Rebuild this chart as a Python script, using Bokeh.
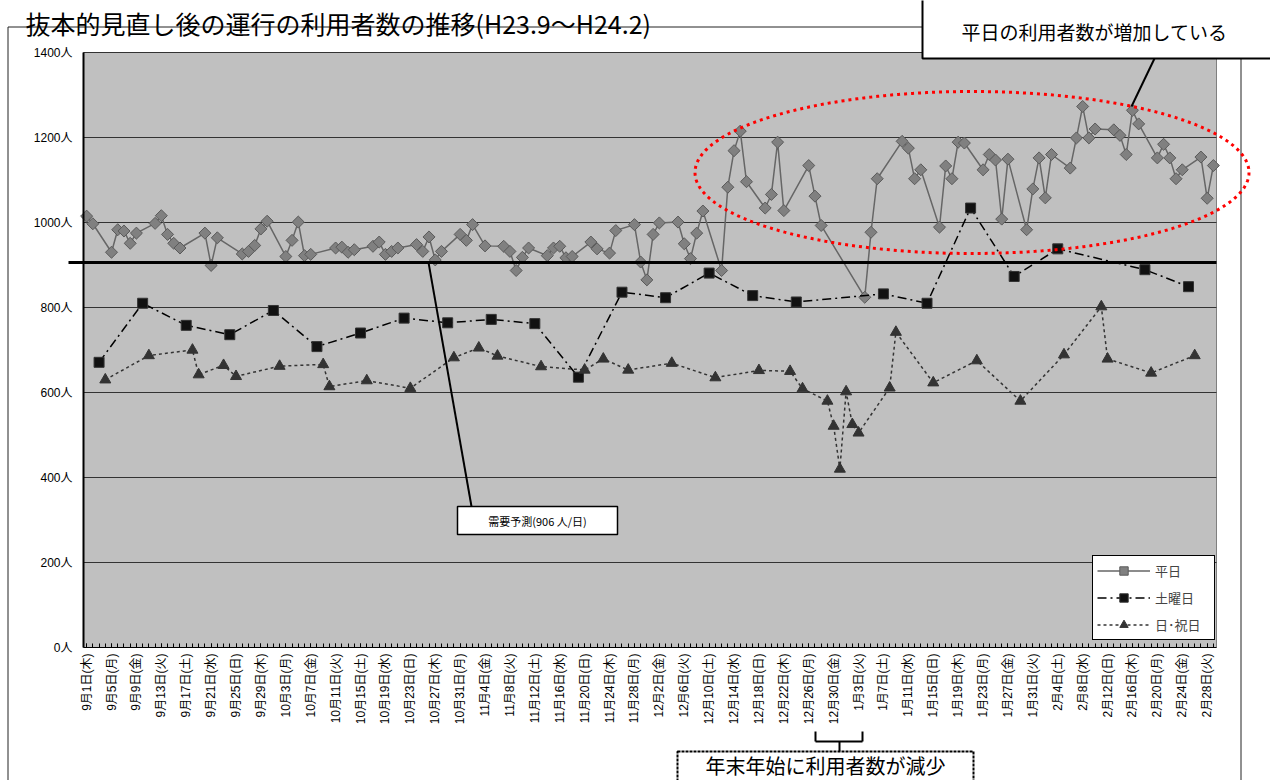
import numpy as np
import pandas as pd
from bokeh.plotting import figure
from bokeh.models import (FixedTicker, Legend, LegendItem, Label, BoxAnnotation,
                          PolyAnnotation, Arrow, Range1d)
from bokeh.embed import file_html
from bokeh.resources import INLINE

# ---------------- data ----------------
start_date = "2011-09-01"
end_date = "2012-02-29"

weekday_dates = [
    "2011-09-01", "2011-09-02", "2011-09-05", "2011-09-06", "2011-09-07", "2011-09-08", "2011-09-09",
    "2011-09-12", "2011-09-13", "2011-09-14", "2011-09-15", "2011-09-16", "2011-09-20", "2011-09-21",
    "2011-09-22", "2011-09-26", "2011-09-27", "2011-09-28", "2011-09-29", "2011-09-30",
    "2011-10-03", "2011-10-04", "2011-10-05", "2011-10-06", "2011-10-07", "2011-10-11", "2011-10-12",
    "2011-10-13", "2011-10-14", "2011-10-17", "2011-10-18", "2011-10-19", "2011-10-20", "2011-10-21",
    "2011-10-24", "2011-10-25", "2011-10-26", "2011-10-27", "2011-10-28", "2011-10-31",
    "2011-11-01", "2011-11-02", "2011-11-04", "2011-11-07", "2011-11-08", "2011-11-09", "2011-11-10",
    "2011-11-11", "2011-11-14", "2011-11-15", "2011-11-16", "2011-11-17", "2011-11-18", "2011-11-21",
    "2011-11-22", "2011-11-24", "2011-11-25", "2011-11-28", "2011-11-29", "2011-11-30",
    "2011-12-01", "2011-12-02", "2011-12-05", "2011-12-06", "2011-12-07", "2011-12-08", "2011-12-09",
    "2011-12-12", "2011-12-13", "2011-12-14", "2011-12-15", "2011-12-16", "2011-12-19", "2011-12-20",
    "2011-12-21", "2011-12-22", "2011-12-26", "2011-12-27", "2011-12-28",
    "2012-01-04", "2012-01-05", "2012-01-06", "2012-01-10", "2012-01-11", "2012-01-12", "2012-01-13",
    "2012-01-16", "2012-01-17", "2012-01-18", "2012-01-19", "2012-01-20", "2012-01-23", "2012-01-24",
    "2012-01-25", "2012-01-26", "2012-01-27", "2012-01-30", "2012-01-31",
    "2012-02-01", "2012-02-02", "2012-02-03", "2012-02-06", "2012-02-07", "2012-02-08", "2012-02-09",
    "2012-02-10", "2012-02-13", "2012-02-14", "2012-02-15", "2012-02-16", "2012-02-17", "2012-02-20",
    "2012-02-21", "2012-02-22", "2012-02-23", "2012-02-24", "2012-02-27", "2012-02-28", "2012-02-29",
]
weekday_values = [
    1015, 997, 930, 983, 980, 951, 975,
    998, 1016, 972, 951, 940, 975, 899,
    964, 926, 932, 946, 985, 1003,
    920, 958, 1001, 922, 925, 940, 942,
    930, 936, 944, 954, 925, 932, 940,
    948, 932, 966, 912, 932, 972,
    958, 995, 945, 944, 932, 887, 918,
    940, 922, 940, 944, 917, 920, 954,
    938, 928, 981, 995, 907, 865,
    972, 999, 1001, 950, 915, 975, 1027,
    887, 1083, 1169, 1215, 1096, 1034, 1066,
    1189, 1028, 1134, 1062, 993,
    824, 977, 1103, 1191, 1175, 1103, 1124,
    989, 1133, 1103, 1189, 1187, 1124, 1160,
    1147, 1008, 1149, 983, 1079,
    1152, 1058, 1160, 1128, 1199, 1273, 1199,
    1220, 1218, 1205, 1160, 1264, 1232, 1152,
    1184, 1152, 1103, 1124, 1154, 1057, 1134,
]

saturday_dates = [
    "2011-09-03", "2011-09-10", "2011-09-17", "2011-09-24", "2011-10-01", "2011-10-08",
    "2011-10-15", "2011-10-22", "2011-10-29", "2011-11-05", "2011-11-12", "2011-11-19",
    "2011-11-26", "2011-12-03", "2011-12-10", "2011-12-17", "2011-12-24", "2012-01-07",
    "2012-01-14", "2012-01-21", "2012-01-28", "2012-02-04", "2012-02-18", "2012-02-25",
]
saturday_values = [
    671, 810, 758, 736, 793, 708,
    740, 775, 764, 772, 762, 636,
    836, 823, 881, 828, 813, 832,
    810, 1034, 873, 938, 889, 849,
]

holiday_dates = [
    "2011-09-04", "2011-09-11", "2011-09-18", "2011-09-19", "2011-09-23", "2011-09-25",
    "2011-10-02", "2011-10-09", "2011-10-10", "2011-10-16", "2011-10-23", "2011-10-30",
    "2011-11-03", "2011-11-06", "2011-11-13", "2011-11-20", "2011-11-23", "2011-11-27",
    "2011-12-04", "2011-12-11", "2011-12-18", "2011-12-23", "2011-12-25", "2011-12-29",
    "2011-12-30", "2011-12-31", "2012-01-01", "2012-01-02", "2012-01-03", "2012-01-08",
    "2012-01-09", "2012-01-15", "2012-01-22", "2012-01-29", "2012-02-05", "2012-02-11",
    "2012-02-12", "2012-02-19", "2012-02-26",
]
holiday_values = [
    630, 687, 700, 642, 664, 638,
    662, 666, 614, 628, 610, 682,
    705, 686, 661, 653, 679, 653,
    669, 635, 652, 650, 609, 580,
    521, 420, 602, 525, 505, 611,
    742, 623, 675, 580, 689, 802,
    679, 646, 687,
]

demand_forecast = 906

tick_dates = [
    "2011-09-01", "2011-09-05", "2011-09-09", "2011-09-13", "2011-09-17", "2011-09-21",
    "2011-09-25", "2011-09-29", "2011-10-03", "2011-10-07", "2011-10-11", "2011-10-15",
    "2011-10-19", "2011-10-23", "2011-10-27", "2011-10-31", "2011-11-04", "2011-11-08",
    "2011-11-12", "2011-11-16", "2011-11-20", "2011-11-24", "2011-11-28", "2011-12-02",
    "2011-12-06", "2011-12-10", "2011-12-14", "2011-12-18", "2011-12-22", "2011-12-26",
    "2011-12-30", "2012-01-03", "2012-01-07", "2012-01-11", "2012-01-15", "2012-01-19",
    "2012-01-23", "2012-01-27", "2012-01-31", "2012-02-04", "2012-02-08", "2012-02-12",
    "2012-02-16", "2012-02-20", "2012-02-24", "2012-02-28",
]
tick_labels = [
    "9月1日(木)", "9月5日(月)", "9月9日(金)", "9月13日(火)", "9月17日(土)", "9月21日(水)",
    "9月25日(日)", "9月29日(木)", "10月3日(月)", "10月7日(金)", "10月11日(火)", "10月15日(土)",
    "10月19日(水)", "10月23日(日)", "10月27日(木)", "10月31日(月)", "11月4日(金)", "11月8日(火)",
    "11月12日(土)", "11月16日(水)", "11月20日(日)", "11月24日(木)", "11月28日(月)", "12月2日(金)",
    "12月6日(火)", "12月10日(土)", "12月14日(水)", "12月18日(日)", "12月22日(木)", "12月26日(月)",
    "12月30日(金)", "1月3日(火)", "1月7日(土)", "1月11日(水)", "1月15日(日)", "1月19日(木)",
    "1月23日(月)", "1月27日(金)", "1月31日(火)", "2月4日(土)", "2月8日(水)", "2月12日(日)",
    "2月16日(木)", "2月20日(月)", "2月24日(金)", "2月28日(火)",
]

y_ticks = [0, 200, 400, 600, 800, 1000, 1200, 1400]
y_tick_labels = ["0人", "200人", "400人", "600人", "800人", "1000人", "1200人", "1400人"]

series_names = ["平日", "土曜日", "日･祝日"]

title_text = "抜本的見直し後の運行の利用者数の推移(H23.9～H24.2)"
callout_top = "平日の利用者数が増加している"
callout_bottom = "年末年始に利用者数が減少"
demand_text = "需要予測(906 人/日)"

# ---------------- geometry helpers ----------------
t0 = pd.Timestamp(start_date)


def days(ds):
    return [(pd.Timestamp(d) - t0).days for d in ds]


n_days = days([end_date])[0] + 1
PX0, PX1 = -0.5, n_days - 0.5          # plot-area data extent (x)
PY0, PY1 = y_ticks[0], y_ticks[-1]     # plot-area data extent (y)

# page-pixel geometry: canvas position/size and plot area rectangle
W, H = 1270, 780
CL, CT = 0, 0
FL, FR, FT, FB = 83, 1216, 52, 647


def dx(px):
    return PX0 + (px - FL) / (FR - FL) * (PX1 - PX0)


def dy(py):
    return PY0 + (FB - py) / (FB - FT) * (PY1 - PY0)


x_range = Range1d(dx(CL), dx(CL + W))
y_range = Range1d(dy(CT + H), dy(CT))

CJK = "Liberation Sans, Noto Sans CJK JP"
JP = "Noto Sans CJK JP"

p = figure(width=W, height=H, output_backend="svg", toolbar_location=None,
           x_range=x_range, y_range=y_range,
           min_border_left=0, min_border_right=0, min_border_top=0, min_border_bottom=0)
p.background_fill_color = "white"
p.border_fill_color = "white"
p.outline_line_color = None
p.xgrid.visible = False
p.ygrid.visible = False

# plot area
p.add_layout(BoxAnnotation(left=PX0, right=PX1, bottom=PY0, top=PY1, fill_color="#C0C0C0",
                           fill_alpha=1, line_color="#808080", line_alpha=1, line_width=1,
                           level="underlay"))
# horizontal gridlines
gy = y_ticks[1:]
p.segment(x0=[PX0] * len(gy), y0=gy, x1=[PX1] * len(gy), y1=gy,
          line_color="#333333", line_width=1)

# axes, fixed to the plot-area edges
p.yaxis.fixed_location = PX0
p.yaxis.bounds = (PY0, PY1)
p.yaxis.ticker = FixedTicker(ticks=y_ticks)
p.yaxis.major_label_overrides = {t: l for t, l in zip(y_ticks, y_tick_labels)}
p.yaxis.axis_line_color = "black"
p.yaxis.axis_line_width = 2
p.yaxis.major_tick_in = 0
p.yaxis.major_tick_out = 0
p.yaxis.minor_tick_line_color = None
p.yaxis.major_label_standoff = 11
p.yaxis.major_label_text_font = CJK
p.yaxis.major_label_text_font_size = "12px"
p.yaxis.major_label_text_color = "black"

tdays = days(tick_dates)
p.xaxis.fixed_location = PY0
p.xaxis.bounds = (PX0, PX1)
p.xaxis.ticker = FixedTicker(ticks=tdays, minor_ticks=list(range(n_days)))
p.xaxis.major_label_overrides = {t: l for t, l in zip(tdays, tick_labels)}
p.xaxis.major_label_orientation = np.pi / 2
p.xaxis.axis_line_color = "black"
p.xaxis.axis_line_width = 1
p.xaxis.major_tick_in = 4
p.xaxis.major_tick_out = 0
p.xaxis.minor_tick_in = 4
p.xaxis.minor_tick_out = 0
p.xaxis.major_label_standoff = 6
p.xaxis.major_label_text_font = CJK
p.xaxis.major_label_text_font_size = "12px"
p.xaxis.major_label_text_color = "black"

# series
wx, sx, hx = days(weekday_dates), days(saturday_dates), days(holiday_dates)

l1 = p.line(wx, weekday_values, line_color="#666666", line_width=1.5)
s1 = p.scatter(wx, weekday_values, marker="square", angle=np.pi / 4, size=8.5,
               fill_color="#808080", line_color="#5a5a5a", line_width=1)

l2 = p.line(sx, saturday_values, line_color="black", line_width=1.5, line_dash="9 4 2 4")
s2 = p.scatter(sx, saturday_values, marker="square", size=10,
               fill_color="#111111", line_color="#333333", line_width=1)

l3 = p.line(hx, holiday_values, line_color="#333333", line_width=1.5, line_dash="3 3")
s3 = p.scatter(hx, holiday_values, marker="triangle", size=11,
               fill_color="#333333", line_color="#333333", line_width=1)

# demand forecast line
p.add_layout(Arrow(end=None, x_start=dx(68), y_start=demand_forecast, x_end=PX1,
                   y_end=demand_forecast, line_color="black", line_width=3))

# legend
legend = Legend(items=[LegendItem(label=series_names[0], renderers=[l1, s1]),
                       LegendItem(label=series_names[1], renderers=[l2, s2]),
                       LegendItem(label=series_names[2], renderers=[l3, s3])],
                location=(1092 - CL, (CT + H) - 640))
legend.glyph_width = 53
legend.glyph_height = 21
legend.label_height = 21
legend.label_width = 55
legend.spacing = 6
legend.padding = 4
legend.margin = 0
legend.label_standoff = 5
legend.label_text_font = JP
legend.label_text_font_size = "13px"
legend.border_line_color = "black"
legend.border_line_width = 1
legend.border_line_alpha = 1
legend.background_fill_color = "white"
legend.background_fill_alpha = 1
p.add_layout(legend)

# chart area border
p.add_layout(BoxAnnotation(left=dx(7.5), right=dx(1240.5), top=dy(26.5), bottom=dy(800),
                           fill_alpha=0, line_color="#222222", line_alpha=1, line_width=1))

# title
p.add_layout(Label(x=dx(25), y=dy(22), text=title_text, text_font=JP,
                   text_font_size="25px", text_baseline="alphabetic", text_align="left",
                   text_color="black"))

# red dotted ellipse
t = np.linspace(0, 2 * np.pi, 240)
ex = [dx(971.5 + 277 * np.cos(a)) for a in t]
ey = [dy(172 + 81 * np.sin(a)) for a in t]
p.add_layout(PolyAnnotation(xs=ex, ys=ey, fill_alpha=0, line_color="red", line_alpha=1,
                            line_width=3, line_dash="3 4"))

# top callout
p.add_layout(Arrow(end=None, x_start=dx(1154), y_start=dy(58), x_end=dx(1131), y_end=dy(106),
                   line_color="black", line_width=2))
p.add_layout(BoxAnnotation(left=dx(922), right=dx(1290), top=dy(-10), bottom=dy(58),
                           fill_color="white", fill_alpha=1, line_color="black", line_alpha=1,
                           line_width=2))
p.add_layout(Label(x=dx(1094), y=dy(31), text=callout_top, text_font=JP,
                   text_font_size="19px", text_baseline="middle", text_align="center",
                   text_color="black"))

# demand callout
p.add_layout(Arrow(end=None, x_start=dx(428), y_start=demand_forecast, x_end=dx(471), y_end=dy(506),
                   line_color="black", line_width=2))
p.add_layout(BoxAnnotation(left=dx(457), right=dx(617), top=dy(506), bottom=dy(534),
                           fill_color="white", fill_alpha=1, line_color="black", line_alpha=1,
                           line_width=1.5))
p.add_layout(Label(x=dx(537), y=dy(520), text=demand_text, text_font=JP,
                   text_font_size="11px", text_baseline="middle", text_align="center",
                   text_color="black"))

# bottom callout with bracket
for (xa, ya, xb, yb) in [(815, 731, 815, 741), (815, 741, 862, 741), (862, 731, 862, 741),
                         (839, 741, 839, 751)]:
    p.add_layout(Arrow(end=None, x_start=dx(xa), y_start=dy(ya), x_end=dx(xb), y_end=dy(yb),
                       line_color="black", line_width=2))
p.add_layout(BoxAnnotation(left=dx(677), right=dx(973), top=dy(751), bottom=dy(820),
                           fill_color="white", fill_alpha=1, line_color="black", line_alpha=1,
                           line_width=2, line_dash="3 1"))
p.add_layout(Label(x=dx(825), y=dy(765), text=callout_bottom, text_font=JP,
                   text_font_size="20px", text_baseline="middle", text_align="center",
                   text_color="black"))

open("out.html", "w").write(file_html(p, INLINE))
